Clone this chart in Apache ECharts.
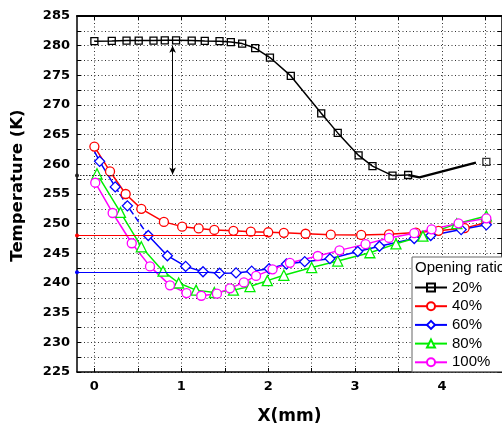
<!DOCTYPE html>
<html>
<head>
<meta charset="utf-8">
<script src="https://cdn.jsdelivr.net/npm/echarts@6/dist/echarts.min.js"></script>
<style>html,body{margin:0;padding:0;background:#fff;}#c{width:502px;height:431px;}</style>
</head>
<body>
<div id="c"></div>
<script>
// ---- data ----
const xTickValues = [0, 0.5, 1, 1.5, 2, 2.5, 3, 3.5, 4, 4.5];
const xLabelValues = [0, 1, 2, 3, 4];
const seriesNames = ['20%', '40%', '60%', '80%', '100%'];

const ratio20 = [[0,280.75],[0.2,280.8],[0.37,280.85],[0.51,280.85],[0.68,280.85],[0.81,280.9],[0.94,280.9],[1.12,280.85],[1.27,280.8],[1.44,280.75],[1.57,280.6],[1.70,280.35],[1.85,279.6],[2.02,278.0],[2.26,274.9],[2.61,268.6],[2.80,265.3],[3.04,261.5],[3.20,259.7],[3.43,258.1],[3.61,258.2]];
const ratio20Tail = [[3.61,258.2],[3.74,257.8],[4.39,260.3]];
const ratio20End = [[4.51,260.4]];

const ratio40 = [[0,263.0],[0.18,258.8],[0.36,255.0],[0.54,252.5],[0.80,250.3],[1.01,249.5],[1.20,249.2],[1.38,248.95],[1.60,248.8],[1.80,248.65],[2.0,248.55],[2.18,248.45],[2.43,248.3],[2.72,248.15],[3.07,248.1],[3.39,248.2],[3.70,248.5],[3.96,248.8],[4.26,249.25],[4.51,250.2]];

const ratio60Start = [0, 262.2];
const ratio60 = [[0.06,260.5],[0.24,256.2],[0.38,253.0],[0.62,248.0],[0.84,244.6],[1.05,242.8],[1.25,241.9],[1.44,241.65],[1.63,241.7],[1.81,242.0],[2.01,242.4],[2.21,243.2],[2.42,243.6],[2.71,244.1],[3.03,245.3],[3.28,246.2],[3.68,247.5],[3.87,248.0],[4.22,249.0],[4.51,249.8]];

const ratio80 = [[0.03,258.4],[0.30,251.9],[0.54,246.1],[0.79,242.0],[0.97,240.0],[1.17,238.8],[1.38,238.4],[1.60,238.8],[1.79,239.4],[1.99,240.4],[2.18,241.3],[2.50,242.6],[2.80,243.7],[3.17,245.1],[3.47,246.6],[3.78,247.9],[4.17,250.0],[4.51,251.3]];

const ratio100 = [[0.01,256.9],[0.21,251.8],[0.43,246.7],[0.64,242.8],[0.87,239.6],[1.06,238.3],[1.23,237.85],[1.41,238.2],[1.56,239.1],[1.72,240.1],[1.86,241.2],[2.05,242.3],[2.25,243.4],[2.57,244.55],[2.82,245.5],[3.12,246.55],[3.39,247.6],[3.68,248.4],[3.88,249.05],[4.19,250.05],[4.51,250.9]];

// reference lines: [y, xEnd]
const refBlack = [258.1, 3.5];
const refRed = [248.0, 2.0];
const refBlue = [241.8, 1.45];
const arrowX = 0.9, arrowTop = 280.0, arrowBottom = 258.3;

// ---- chart ----
const X_MIN = -0.2, X_MAX = 4.69, Y_MIN = 225, Y_MAX = 285;
const chart = echarts.init(document.getElementById('c'), null, {renderer: 'canvas'});

const gridDot = {color: '#333', width: 1, type: [1, 2.5]};
const labelFont = {fontFamily: 'DejaVu Sans', fontWeight: 'bold', fontSize: 13, color: '#000'};

function lineSeries(name, data, color, symbol, size, extra) {
  return Object.assign({
    name: name, type: 'line', data: data,
    symbol: symbol, symbolSize: size,
    lineStyle: {color: color, width: 1.5},
    itemStyle: {color: '#fff', borderColor: color, borderWidth: 1.3},
    emphasis: {disabled: true},
    animation: false, z: 3
  }, extra || {});
}

// break the blue line where it is drawn dashed
const blueSolid = [ratio60Start].concat([ratio60[0], ratio60[1], null, ratio60[2], null]).concat(ratio60.slice(3));
const blueDashed = [ratio60[1], ratio60[2], ratio60[3]];

const option = {
  backgroundColor: '#fff',
  animation: false,
  grid: {left: 77, top: 16, right: 0, bottom: 59, containLabel: false},
  xAxis: [{
    type: 'value', min: X_MIN, max: X_MAX, position: 'bottom',
    name: 'X(mm)', nameLocation: 'middle', nameGap: 36,
    nameTextStyle: {fontFamily: 'DejaVu Sans', fontWeight: 'bold', fontSize: 17, color: '#000'},
    axisLine: {show: true, onZero: false, lineStyle: {color: '#000', width: 1.5}},
    axisTick: {show: true, inside: true, length: 4, customValues: xTickValues, lineStyle: {color: '#000'}},
    axisLabel: Object.assign({customValues: xLabelValues, margin: 8}, labelFont),
    splitLine: {show: true, lineStyle: gridDot}
  }, {
    type: 'value', min: X_MIN, max: X_MAX, position: 'top',
    axisLine: {show: true, onZero: false, lineStyle: {color: '#000', width: 2}},
    axisTick: {show: true, inside: true, length: 4, customValues: xTickValues, lineStyle: {color: '#000'}},
    axisLabel: {show: false},
    splitLine: {show: false}
  }],
  yAxis: [{
    type: 'value', min: Y_MIN, max: Y_MAX, interval: 2.5,
    name: 'Temperature (K)', nameLocation: 'middle', nameGap: 51, nameRotate: 90,
    nameTextStyle: {fontFamily: 'DejaVu Sans', fontWeight: 'bold', fontSize: 16.5, color: '#000', padding: [0, 0, 0, 17]},
    axisLine: {show: true, onZero: false, lineStyle: {color: '#000', width: 1.5}},
    axisTick: {show: true, inside: true, length: 4, lineStyle: {color: '#000'}},
    axisLabel: Object.assign({margin: 7, formatter: v => (Math.round(v * 10) % 50 === 0 ? String(v) : '')}, labelFont),
    splitLine: {show: true, lineStyle: gridDot}
  }, {
    type: 'value', min: Y_MIN, max: Y_MAX, interval: 2.5, position: 'right',
    axisLine: {show: true, onZero: false, lineStyle: {color: '#000', width: 1.5}},
    axisTick: {show: true, inside: true, length: 4, lineStyle: {color: '#000'}},
    axisLabel: {show: false},
    splitLine: {show: false}
  }],
  legend: {
    data: seriesNames,
    orient: 'vertical', left: 412, top: 257,
    padding: [23, 60, 2, 2],
    itemWidth: 32, itemHeight: 10, itemGap: 3.7,
    backgroundColor: '#fff', borderColor: '#666', borderWidth: 1, borderRadius: 0,
    textStyle: {fontFamily: 'Liberation Sans', fontSize: 15, color: '#000', lineHeight: 15},
    selectedMode: false, z: 10
  },
  graphic: [{
    type: 'text', left: 415, top: 260, z: 100,
    style: {text: 'Opening ratio', fontFamily: 'Liberation Sans', fontSize: 15, fill: '#000'}
  }],
  series: [
    lineSeries('20%', ratio20, '#000', 'rect', 7, {
      itemStyle: {color: 'rgba(0,0,0,0)', borderColor: '#000', borderWidth: 1.3},
      markLine: {
        silent: true, animation: false,
        data: [
          [{coord: [X_MIN, refBlack[0]], symbol: 'circle', symbolSize: 4,
            lineStyle: {color: '#222', width: 1.2, type: [1.5, 1.5]}},
           {coord: [refBlack[1], refBlack[0]], symbol: 'none'}],
          [{coord: [arrowX, arrowTop], symbol: 'arrow', symbolSize: [5, 7],
            lineStyle: {color: '#000', width: 1, type: 'solid'}},
           {coord: [arrowX, arrowBottom], symbol: 'arrow', symbolSize: [5, 7]}]
        ],
        lineStyle: {color: '#000', width: 1},
        label: {show: false}
      }
    }),
    {name: 'tail20', type: 'line', data: ratio20Tail, symbol: 'none',
     lineStyle: {color: '#000', width: 2.4}, animation: false, z: 3},
    {name: 'end20', type: 'scatter', data: ratio20End, symbol: 'rect', symbolSize: 7,
     itemStyle: {color: 'rgba(0,0,0,0)', borderColor: '#000', borderWidth: 1.3}, animation: false, z: 3},
    lineSeries('40%', ratio40, '#ff0000', 'circle', 9, {
      markLine: {
        silent: true, animation: false, symbol: ['circle', 'none'], symbolSize: 4,
        data: [[{coord: [X_MIN, refRed[0]]}, {coord: [refRed[1], refRed[0]]}]],
        lineStyle: {color: '#ff0000', width: 1, type: 'solid'},
        label: {show: false}
      }
    }),
    lineSeries('60%', blueSolid, '#0000ff', 'diamond', 10, {
      connectNulls: false,
      markLine: {
        silent: true, animation: false, symbol: ['circle', 'none'], symbolSize: 4,
        data: [[{coord: [X_MIN, refBlue[0]]}, {coord: [refBlue[1], refBlue[0]]}]],
        lineStyle: {color: '#0000ff', width: 1, type: 'solid'},
        label: {show: false}
      }
    }),
    {name: 'dash60', type: 'line', data: blueDashed, symbol: 'none', z: 2,
     lineStyle: {color: '#0000ff', width: 1.5, type: [6, 3]}, animation: false},
    lineSeries('80%', ratio80, '#00ee00', 'triangle', 10),
    lineSeries('100%', ratio100, '#ff00ff', 'circle', 9)
  ]
};
// first blue point has no marker
option.series[4].data[0] = {value: ratio60Start, symbol: 'none'};
chart.setOption(option);
</script>
</body>
</html>
